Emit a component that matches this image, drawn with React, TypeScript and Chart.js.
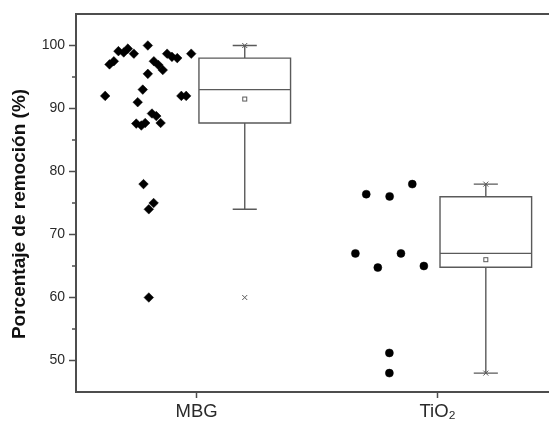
import React, { useEffect, useRef } from 'react';
import { Chart, registerables } from 'chart.js';

Chart.register(...registerables);

// ---------- data ----------
const categories = ['MBG', 'TiO₂'];
const categoryPositions = [1, 2];
const yTickValues = [50, 60, 70, 80, 90, 100];
const yMinorTickValues = [55, 65, 75, 85, 95];
const yAxisTitle = 'Porcentaje de remoción (%)';

// MBG raw points (removal %) and their horizontal jitter (category units)
const mbgValues = [
  92.0, 97.0, 97.5, 99.1, 98.9, 99.5, 98.7, 100.0, 95.5, 97.5,
  96.9, 96.1, 98.7, 98.2, 98.0, 98.7, 93.0, 91.0, 92.0, 92.0,
  87.6, 87.3, 87.7, 89.2, 88.8, 87.7, 78.0, 74.0, 75.0, 60.0,
];
const mbgJitter = [
  -0.379, -0.361, -0.343, -0.324, -0.302, -0.285, -0.26, -0.202, -0.202, -0.177,
  -0.158, -0.14, -0.122, -0.102, -0.08, -0.022, -0.223, -0.244, -0.063, -0.043,
  -0.25, -0.229, -0.213, -0.185, -0.167, -0.149, -0.22, -0.198, -0.178, -0.198,
];

// TiO2 raw points
const tio2Values = [76.4, 76.05, 78.0, 67.0, 67.0, 64.75, 65.0, 51.2, 48.0];
const tio2Jitter = [-0.296, -0.199, -0.105, -0.341, -0.152, -0.248, -0.057, -0.2, -0.2];

// Box statistics per category
const boxQ1 = [87.7, 64.8];
const boxMedian = [93.0, 67.0];
const boxQ3 = [98.0, 76.0];
const boxMean = [91.5, 66.0];
const whiskerLow = [74.0, 48.0];
const whiskerHigh = [100.0, 78.0];
const minValues = [60.0, 48.0];
const maxValues = [100.0, 78.0];

// ---------- layout / style ----------
const W = 549;
const H = 423;
const CANVAS_W = 555;
const AXIS_COLOR = '#4d4d4d';
const BOX_COLOR = '#5a5a5a';
const TEXT_COLOR = '#2a2a2a';
const FONT = "'Liberation Sans', Arial, sans-serif";
const BOX_OFFSET = 0.2;
const BOX_HALF = 0.19;
const CAP_HALF = 0.05;

const boxPlugin = {
  id: 'boxPlugin',
  beforeDatasetsDraw(chart: any) {
    const { ctx, scales } = chart;
    const x = scales.x;
    const y = scales.y;
    ctx.save();
    ctx.strokeStyle = BOX_COLOR;
    ctx.lineWidth = 1.4;
    categoryPositions.forEach((c, i) => {
      const cx = x.getPixelForValue(c + BOX_OFFSET);
      const l = x.getPixelForValue(c + BOX_OFFSET - BOX_HALF);
      const r = x.getPixelForValue(c + BOX_OFFSET + BOX_HALF);
      const cl = x.getPixelForValue(c + BOX_OFFSET - CAP_HALF);
      const cr = x.getPixelForValue(c + BOX_OFFSET + CAP_HALF);
      const q1 = y.getPixelForValue(boxQ1[i]);
      const q3 = y.getPixelForValue(boxQ3[i]);
      const med = y.getPixelForValue(boxMedian[i]);
      const wl = y.getPixelForValue(whiskerLow[i]);
      const wh = y.getPixelForValue(whiskerHigh[i]);
      ctx.beginPath();
      ctx.rect(l, q3, r - l, q1 - q3);
      ctx.moveTo(l, med);
      ctx.lineTo(r, med);
      ctx.moveTo(cx, q3);
      ctx.lineTo(cx, wh);
      ctx.moveTo(cl, wh);
      ctx.lineTo(cr, wh);
      ctx.moveTo(cx, q1);
      ctx.lineTo(cx, wl);
      ctx.moveTo(cl, wl);
      ctx.lineTo(cr, wl);
      ctx.stroke();
      // mean square
      const my = y.getPixelForValue(boxMean[i]);
      ctx.lineWidth = 1;
      ctx.strokeRect(cx - 2, my - 2, 4, 4);
      // min / max crosses
      [minValues[i], maxValues[i]].forEach((v) => {
        const py = y.getPixelForValue(v);
        ctx.beginPath();
        ctx.moveTo(cx - 2.5, py - 2.5);
        ctx.lineTo(cx + 2.5, py + 2.5);
        ctx.moveTo(cx + 2.5, py - 2.5);
        ctx.lineTo(cx - 2.5, py + 2.5);
        ctx.stroke();
      });
      ctx.lineWidth = 1.4;
    });
    ctx.restore();
  },
  afterDraw(chart: any) {
    const { ctx, chartArea, scales } = chart;
    const y = scales.y;
    ctx.save();
    // top frame line
    ctx.strokeStyle = AXIS_COLOR;
    ctx.lineWidth = 2;
    ctx.beginPath();
    ctx.moveTo(chartArea.left - 1, chartArea.top);
    ctx.lineTo(chartArea.right, chartArea.top);
    ctx.stroke();
    // y ticks (major and minor, outward)
    ctx.lineWidth = 1.5;
    ctx.beginPath();
    yTickValues.forEach((v) => {
      const py = y.getPixelForValue(v);
      ctx.moveTo(chartArea.left, py);
      ctx.lineTo(chartArea.left - 7, py);
    });
    yMinorTickValues.forEach((v) => {
      const py = y.getPixelForValue(v);
      ctx.moveTo(chartArea.left, py);
      ctx.lineTo(chartArea.left - 4, py);
    });
    ctx.stroke();
    // y title
    ctx.fillStyle = '#111';
    ctx.font = `bold 19px ${FONT}`;
    ctx.textAlign = 'center';
    ctx.textBaseline = 'middle';
    ctx.translate(20, 214);
    ctx.rotate(-Math.PI / 2);
    ctx.fillText(yAxisTitle, 0, 0);
    ctx.restore();
  },
};

export default function App() {
  const ref = useRef<HTMLCanvasElement>(null);
  useEffect(() => {
    if (!ref.current) return;
    const chart = new Chart(ref.current, {
      type: 'scatter',
      data: {
        datasets: [
          {
            label: categories[0],
            data: mbgValues.map((v, i) => ({ x: categoryPositions[0] + mbgJitter[i], y: v })),
            pointStyle: 'rectRot',
            radius: 4.8,
            backgroundColor: '#000',
            borderColor: '#000',
            borderWidth: 0.5,
          },
          {
            label: categories[1],
            data: tio2Values.map((v, i) => ({ x: categoryPositions[1] + tio2Jitter[i], y: v })),
            pointStyle: 'circle',
            radius: 4,
            backgroundColor: '#000',
            borderColor: '#000',
            borderWidth: 0.5,
          },
        ],
      },
      options: {
        responsive: false,
        animation: false,
        events: [],
        layout: { padding: { top: 14, right: 0, bottom: 0, left: 0 } },
        plugins: { legend: { display: false }, tooltip: { enabled: false } },
        scales: {
          x: {
            type: 'linear',
            min: 0.5,
            max: 2.465,
            afterFit: (s: any) => {
              s.height = 31;
              s.paddingLeft = 0;
              s.paddingRight = 0;
            },
            afterBuildTicks: (s: any) => {
              s.ticks = categoryPositions.map((v) => ({ value: v }));
            },
            ticks: {
              autoSkip: false,
              maxRotation: 0,
              padding: 3,
              color: TEXT_COLOR,
              font: { family: FONT, size: 18.5 },
              callback: (v: any) => {
                const idx = categoryPositions.indexOf(Number(v));
                return idx >= 0 ? categories[idx] : '';
              },
            },
            grid: {
              display: true,
              drawOnChartArea: false,
              drawTicks: true,
              tickLength: 6,
              tickColor: AXIS_COLOR,
              tickWidth: 1.5,
            },
            border: { display: true, color: AXIS_COLOR, width: 2 },
          },
          y: {
            type: 'linear',
            min: 45,
            max: 105,
            afterFit: (s: any) => {
              s.width = 76;
              s.paddingTop = 0;
              s.paddingBottom = 0;
            },
            afterBuildTicks: (s: any) => {
              s.ticks = yTickValues.map((v) => ({ value: v }));
            },
            ticks: {
              padding: 11,
              color: TEXT_COLOR,
              font: { family: FONT, size: 14 },
            },
            grid: { display: false, drawTicks: false },
            border: { display: true, color: AXIS_COLOR, width: 2 },
          },
        },
      },
      plugins: [boxPlugin],
    });
    return () => chart.destroy();
  }, []);
  return (
    <div
      style={{
        position: 'fixed',
        left: 0,
        top: 0,
        width: W,
        height: H,
        overflow: 'hidden',
        background: '#fff',
      }}
    >
      <canvas ref={ref} width={CANVAS_W} height={H} style={{ display: 'block' }} />
    </div>
  );
}
